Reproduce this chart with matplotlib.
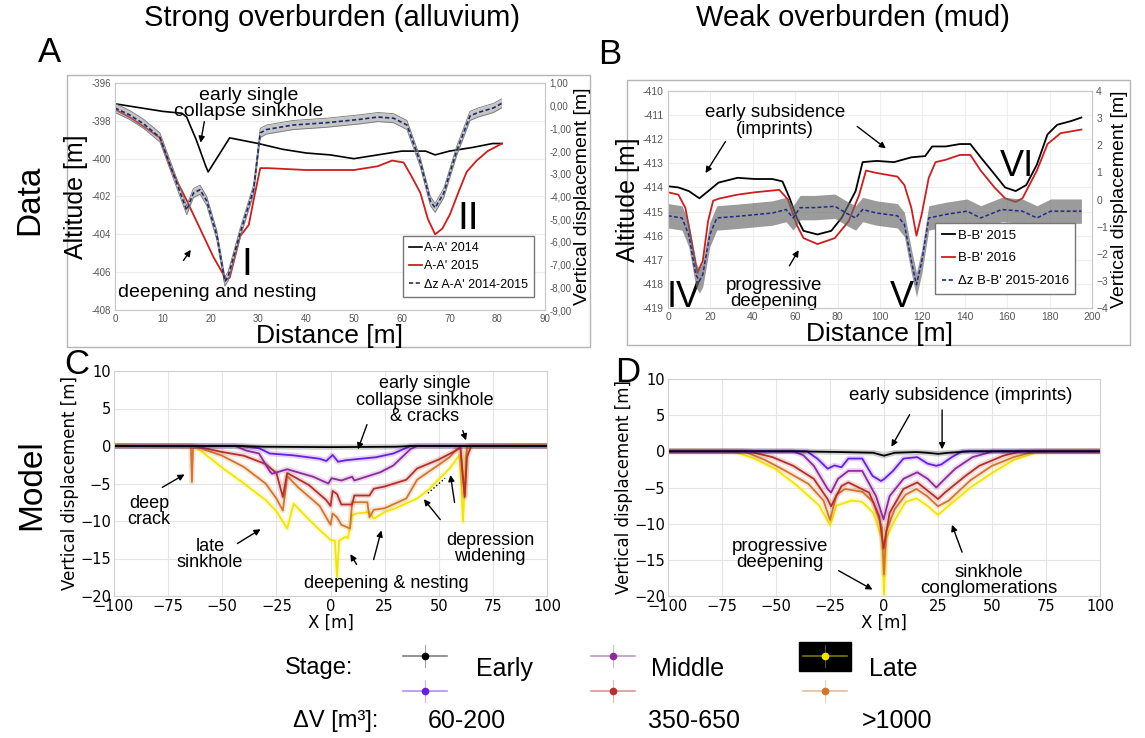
import numpy as np
import matplotlib
matplotlib.use('Agg')
import matplotlib.pyplot as plt
from matplotlib.patches import Rectangle
from matplotlib.lines import Line2D

plt.rcParams['font.family'] = ['Liberation Sans', 'DejaVu Sans']

W, H = 1145, 738

# ---- Panel A data (alluvium, profile A-A') ----
a_x_2014 = [0, 5, 10, 14, 15, 17, 19, 19.5, 20, 22, 24, 26, 30, 35, 40, 45, 50, 55, 60, 65, 67, 70, 75, 79, 81]
a_alt_2014 = [-397.1, -397.3, -397.5, -397.6, -397.8, -399.0, -400.4, -400.7, -400.5, -399.7, -398.9, -399.0,
              -399.2, -399.5, -399.7, -399.8, -400.0, -399.8, -399.6, -399.6, -399.8, -399.6, -399.4, -399.2, -399.2]
a_x_2015 = [0, 3, 6, 9.4, 11.5, 13, 15, 17.8, 20.6, 23.3, 24, 26.2, 28, 29, 30.4, 32, 40, 50, 55, 58, 60.4, 62,
            63.9, 65.5, 67, 68.5, 70.1, 72, 73.6, 75.7, 78, 81]
a_alt_2015 = [-397.4, -397.8, -398.3, -398.9, -400.4, -401.2, -402.2, -403.7, -405.2, -406.4, -406.3, -404.1,
              -403.5, -402.2, -400.5, -400.5, -400.6, -400.6, -400.4, -400.1, -400.2, -400.9, -401.8, -403.2,
              -404.0, -403.7, -402.95, -401.7, -400.7, -400.1, -399.6, -399.2]
a_x_dz = [0, 3, 6, 9.4, 11.5, 14.3, 15, 16.4, 17.8, 19.2, 21.3, 23, 23.7, 26.2, 29, 30.4, 31.7, 37.3, 44.3,
          51.3, 55, 58.3, 61.1, 63.9, 66, 67, 68.8, 71.5, 74.3, 76, 79.2, 80.9]
a_dz = [-0.1, -0.4, -0.8, -1.4, -2.6, -4.2, -4.6, -3.85, -3.7, -4.2, -5.7, -7.75, -7.5, -5.6, -3.7, -1.2, -1.05,
        -0.85, -0.75, -0.6, -0.5, -0.55, -0.85, -2.5, -4.2, -4.5, -3.85, -2.0, -0.45, -0.3, -0.1, 0.1]
a_dz_err = 0.2
a_left_ticks = [-408, -406, -404, -402, -400, -398, -396]
a_right_ticks = [-9, -8, -7, -6, -5, -4, -3, -2, -1, 0, 1]
a_right_labels = ['-9,00', '-8,00', '-7,00', '-6,00', '-5,00', '-4,00', '-3,00', '-2,00', '-1,00', '0,00', '1,00']

# ---- Panel B data (mud, profile B-B') ----
b_x_2015 = [0, 4.9, 9.8, 14.8, 19.7, 23.8, 32.8, 41, 49.2, 54, 57.4, 60.7, 63.9, 70.5, 77, 82, 88.5, 91.8, 98.4,
            106.6, 114.8, 121.3, 124.6, 131, 137.7, 142.6, 147.5, 154, 159, 164, 169, 174, 179, 183.6, 190, 195]
b_alt_2015 = [-413.95, -414.0, -414.15, -414.45, -414.1, -413.8, -413.6, -413.65, -413.65, -413.75, -414.45,
              -415.25, -415.8, -415.95, -415.8, -415.25, -414.15, -412.95, -412.9, -412.95, -412.75, -412.7,
              -412.3, -412.3, -412.2, -412.2, -412.75, -413.45, -414.0, -414.15, -413.9, -413.05, -411.8,
              -411.4, -411.25, -411.1]
b_x_2016 = [0, 4.9, 8.2, 11.5, 13.9, 16.4, 18.9, 21.3, 24.6, 32.8, 41, 52.5, 56.6, 60.7, 63.9, 70.5, 78.7, 85.2,
            90.2, 93.4, 98.4, 108.2, 111.5, 114.8, 117.2, 119.7, 123, 126.2, 131.1, 134.4, 137.7, 142.6, 147.5,
            154, 159, 164, 167.2, 174, 179, 185.2, 195]
b_alt_2016 = [-414.2, -414.3, -414.85, -416.4, -417.55, -417.05, -415.4, -414.55, -414.45, -414.3, -414.2,
              -414.1, -414.5, -415.55, -416.1, -416.35, -416.1, -415.4, -414.3, -413.3, -413.4, -413.55, -413.9,
              -414.85, -416.0, -415.1, -413.6, -412.95, -412.85, -412.75, -412.65, -412.65, -413.3, -414.0,
              -414.45, -414.6, -414.45, -413.3, -412.2, -411.75, -411.6]
b_x_dz = [0, 6.6, 9.8, 13.1, 14.8, 16.4, 19.7, 23, 32.8, 49.2, 55.7, 59, 62.3, 68.9, 78.7, 85.2, 88.5, 91.8, 98.4,
          108.2, 111.5, 114.8, 117.2, 119.7, 123, 131.1, 141, 147.5, 157.4, 167.2, 174, 180.5, 195]
b_dz = [-0.6, -0.68, -1.3, -2.77, -3.0, -2.77, -1.3, -0.68, -0.62, -0.5, -0.37, -0.68, -0.3, -0.3, -0.25, -0.55,
        -0.68, -0.37, -0.5, -0.6, -0.92, -2.28, -3.14, -2.28, -0.68, -0.55, -0.43, -0.68, -0.37, -0.43, -0.68,
        -0.43, -0.43]
b_dz_err = 0.45

# ---- Panel C model (strong overburden) ----
c_x_early1 = [-100, -42, -30, 0, 30, 37, 100]
c_y_early1 = [0, 0, -0.1, -0.15, -0.1, 0, 0]
c_x_early2 = [-100, -42, -33, -28, -17, -5, -2, 1, 3.5, 7, 21, 29, 37, 100]
c_y_early2 = [0, 0, -0.3, -1.0, -1.25, -1.7, -2.0, -1.2, -2.1, -1.9, -1.5, -1.0, 0, 0]
c_x_mid1 = [-100, -44, -39, -33, -28, -27, -20, -8, -1, 0.5, 5, 10, 11, 23, 29, 37, 40, 100]
c_y_mid1 = [0, 0, -0.6, -1.0, -3.4, -3.7, -3.1, -4.1, -5.0, -4.3, -4.6, -4.1, -4.6, -3.5, -2.6, -0.4, 0, 0]
c_x_mid2 = [-100, -63, -50, -40, -30, -25, -22, -20, -10, -2, 0, 1, 3, 5, 10, 11, 18, 20, 25, 35, 40, 50, 58,
            60, 61, 62, 63, 65, 100]
c_y_mid2 = [0, 0, -0.8, -1.3, -2.4, -3.6, -6.8, -3.6, -5.2, -7.2, -8.0, -6.0, -6.4, -7.8, -7.8, -6.6, -6.6, -5.7,
            -5.4, -4.5, -3.0, -1.8, -0.6, -0.2, -3.5, -6.8, -1.5, 0, 0]
c_x_late2 = [-100, -64.5, -64, -63.5, -63, -60, -50, -40, -30, -25, -22, -20, -15, -5, 0, 1, 3, 5, 9, 10, 17, 18,
             20, 25, 35, 40, 45, 55, 58, 60, 61, 62, 63, 100]
c_y_late2 = [0, 0, -4.8, -0.3, -0.2, -0.3, -1.3, -2.8, -5.0, -7.0, -8.6, -4.0, -5.5, -8.0, -10.5, -9.0, -9.5,
             -10.5, -11.0, -7.5, -7.5, -9.5, -8.5, -8.3, -7.0, -4.5, -3.5, -1.5, -0.5, -0.2, -4.0, -6.5, 0, 0]
c_x_late1 = [-100, -63, -60, -50, -40, -30, -25, -20, -17, -10, -5, 0, 2, 3, 4, 7, 8, 10, 12, 18, 20, 25, 30, 40,
             45, 55, 59.7, 61.2, 62.7, 64, 100]
c_y_late1 = [0.1, -0.2, -0.6, -2.9, -5.0, -7.2, -8.7, -11.0, -7.7, -9.8, -11.2, -12.5, -12.6, -17.5, -12.6,
             -12.1, -12.3, -9.2, -9.0, -8.8, -9.7, -8.8, -8.3, -7.0, -5.9, -3.0, -1.2, -10.1, -0.8, 0, 0.1]

# ---- Panel D model (weak overburden) ----
d_x_early1 = [-100, -40, -20, -5, 0, 5, 15, 20, 25, 30, 40, 100]
d_y_early1 = [0, 0, -0.1, -0.2, -0.6, -0.2, -0.1, -0.2, -0.35, -0.2, 0, 0]
d_x_early2 = [-100, -35.7, -30.9, -26.1, -22.9, -19.7, -16.5, -10.1, -5.3, -1.4, 0.2, 4.2, 9, 15.4, 20.2, 24.2,
              26.6, 31.4, 36.2, 100]
d_y_early2 = [0, 0, -1.0, -2.4, -1.95, -2.2, -1.0, -1.0, -3.4, -4.1, -3.8, -2.7, -1.0, -0.8, -1.7, -2.0, -1.8,
              -0.8, 0, 0]
d_x_mid1 = [-100, -42, -37.3, -32.5, -26.1, -24.5, -21.3, -16.5, -10.1, -3.7, -0.2, 2.6, 9, 15.4, 20.2, 24.2,
            28.2, 33, 41, 50.5, 100]
d_y_mid1 = [0, 0, -0.55, -2.0, -5.2, -5.7, -3.8, -2.7, -2.7, -6.2, -9.4, -6.2, -3.8, -2.9, -3.8, -5.0, -3.8,
            -2.4, -0.8, 0, 0]
d_x_mid2 = [-100, -62.8, -51.6, -42, -32.5, -26.1, -24.5, -19.7, -16.5, -6.9, -2.2, -0.2, 2.6, 9, 15.4, 23.4,
            25, 28.2, 37.7, 44.1, 55.3, 63.3, 100]
d_y_mid2 = [0, 0, -0.8, -2.0, -3.8, -6.6, -7.6, -4.8, -4.3, -5.7, -9.0, -13.4, -8.5, -5.2, -4.3, -6.2, -6.6,
            -5.7, -3.4, -2.0, -0.6, 0, 0]
d_x_late2 = [-100, -65, -55, -45, -35, -28, -25, -22, -18, -10, -5, -1, 0, 1, 5, 10, 15, 20, 25, 30, 40, 50, 60,
             70, 100]
d_y_late2 = [0, 0, -1.2, -2.8, -4.5, -6.8, -9.5, -6.0, -5.2, -5.6, -7.0, -10.5, -17.0, -11.0, -8.0, -6.0, -5.2,
             -6.2, -7.6, -6.8, -4.0, -2.0, -0.8, 0, 0]
d_x_late1 = [-100, -70, -60, -50, -40, -30, -25, -22, -15, -10, -5, -1, 0, 1, 5, 10, 15, 20, 25, 30, 40, 50, 60,
             70, 75, 100]
d_y_late1 = [0.1, 0, -1.0, -2.5, -4.8, -7.5, -10.2, -7.5, -6.8, -7.0, -8.5, -12.0, -19.8, -12.0, -9.5, -7.0,
             -6.5, -7.5, -8.8, -7.5, -5.0, -3.0, -1.2, -0.2, 0, 0.1]

stage_colors = {'early1': 'black', 'early2': '#6a1fe0', 'mid1': '#8e2a99',
                'mid2': '#b5302a', 'late2': '#d2762e', 'late1': '#f2e600'}


def rect(x0, y0, x1, y1):
    return [x0 / W, 1 - y1 / H, (x1 - x0) / W, (y1 - y0) / H]


fig = plt.figure(figsize=(W / 100, H / 100), dpi=100)

# overlay in pixel coordinates for frames, titles and the stage key
over = fig.add_axes([0, 0, 1, 1])
over.set_xlim(0, W)
over.set_ylim(H, 0)
over.axis('off')
over.add_patch(Rectangle((67, 75), 523, 272, fill=False, ec='#b5b5b5', lw=1))
over.add_patch(Rectangle((627, 80), 503, 265, fill=False, ec='#b5b5b5', lw=1))
over.text(332, 18, 'Strong overburden (alluvium)', ha='center', va='center', fontsize=21)
over.text(853, 18, 'Weak overburden (mud)', ha='center', va='center', fontsize=21)
for lab, (px, py) in {'A': (50, 53), 'B': (610, 54), 'C': (77, 364), 'D': (628, 372)}.items():
    over.text(px, py, lab, ha='center', va='center', fontsize=25)
over.text(30, 200, 'Data', ha='center', va='center', rotation=90, fontsize=24)
over.text(32, 485, 'Model', ha='center', va='center', rotation=90, fontsize=24)

# ---------------- Panel A ----------------
axA = fig.add_axes(rect(115, 83, 545, 310))
axA.plot(a_x_2014, a_alt_2014, color='black', lw=1.2)
axA.plot(a_x_2015, a_alt_2015, color='#d01c1c', lw=1.3)
axA.set_xlim(0, 90)
axA.set_ylim(-408, -396)
axA.set_xticks(range(0, 91, 10))
axA.set_yticks(a_left_ticks)
axA.set_yticklabels([str(t) for t in a_left_ticks])
axA.tick_params(labelsize=7, colors='#555555', length=0, pad=3)
axA.grid(axis='y', color='#ececec', lw=0.8)
for s in axA.spines.values():
    s.set_color('#c8c8c8')
axA.set_xlabel('Distance [m]', fontsize=19, labelpad=0)
axA.set_ylabel('Altitude [m]', fontsize=18, labelpad=2)

axA2 = axA.twinx()
dz = np.array(a_dz)
axA2.fill_between(a_x_dz, dz - a_dz_err, dz + a_dz_err, color='#8c8c8c', alpha=0.5, lw=0)
axA2.plot(a_x_dz, dz + a_dz_err, color='#777777', lw=0.6)
axA2.plot(a_x_dz, dz - a_dz_err, color='#777777', lw=0.6)
axA2.plot(a_x_dz, dz, color='#1f2a6b', lw=1.2, ls='--', dashes=(2.5, 1.5))
axA2.set_ylim(-9, 1)
axA2.set_yticks(a_right_ticks)
axA2.set_yticklabels(a_right_labels)
axA2.tick_params(labelsize=7, colors='#555555', length=0, pad=3)
axA2.set_ylabel('Vertical displacement [m]', fontsize=14, labelpad=2)
for s in axA2.spines.values():
    s.set_color('#c8c8c8')
hA = [Line2D([], [], color='black', lw=1.2), Line2D([], [], color='#d01c1c', lw=1.3),
      Line2D([], [], color='#1f2a6b', lw=1.2, ls='--', dashes=(2.5, 1.5))]
axA2.legend(hA, ["A-A' 2014", "A-A' 2015", "\u0394z A-A' 2014-2015"], loc='lower right',
            bbox_to_anchor=(0.99, 0.03), fontsize=9, fancybox=False, edgecolor='#777777',
            handlelength=1.0, handletextpad=0.2, borderpad=0.5, labelspacing=0.5, framealpha=1)

axA.annotate('', xy=(17.8, -399.3), xytext=(18.8, -397.9),
             arrowprops=dict(arrowstyle='-|>', color='black', lw=1, mutation_scale=9))
axA.text(28, -397.1, 'early single\ncollapse sinkhole', ha='center', va='center', fontsize=14,
         linespacing=0.95)
axA.annotate('', xy=(16.2, -404.7), xytext=(14.0, -405.5),
             arrowprops=dict(arrowstyle='-|>', color='black', lw=1, mutation_scale=9))
axA.text(21.3, -407.1, 'deepening and nesting', ha='center', va='center', fontsize=14)
axA.text(27.6, -405.6, 'I', ha='center', va='center', fontsize=28)
axA.text(73.9, -403.2, 'II', ha='center', va='center', fontsize=28)

# ---------------- Panel B ----------------
axB = fig.add_axes(rect(668, 91, 1092, 308))
axB.plot(b_x_2015, b_alt_2015, color='black', lw=1.3)
axB.plot(b_x_2016, b_alt_2016, color='#d01c1c', lw=1.3)
axB.set_xlim(0, 200)
axB.set_ylim(-419, -410)
axB.set_xticks(range(0, 201, 20))
axB.set_yticks(range(-419, -409))
axB.set_yticklabels([str(t) for t in range(-419, -409)])
axB.tick_params(labelsize=7.5, colors='#555555', length=0, pad=3)
axB.grid(color='#eeeeee', lw=0.8)
for s in axB.spines.values():
    s.set_color('#c8c8c8')
axB.set_xlabel('Distance [m]', fontsize=19, labelpad=0)
axB.set_ylabel('Altitude [m]', fontsize=18, labelpad=2)

axB2 = axB.twinx()
dzb = np.array(b_dz)
axB2.fill_between(b_x_dz, dzb - b_dz_err, dzb + b_dz_err, color='#666666', alpha=0.65, lw=0)
axB2.plot(b_x_dz, dzb, color='#1f2a8b', lw=1.1, ls='--', dashes=(2.5, 1.5))
axB2.set_ylim(-4, 4)
axB2.set_yticks(range(-4, 5))
axB2.tick_params(labelsize=7.5, colors='#555555', length=0, pad=3)
axB2.set_ylabel('Vertical displacement [m]', fontsize=14, labelpad=2)
for s in axB2.spines.values():
    s.set_color('#c8c8c8')
hB = [Line2D([], [], color='black', lw=1.3), Line2D([], [], color='#d01c1c', lw=1.3),
      Line2D([], [], color='#1f2a8b', lw=1.2, ls='--', dashes=(2.5, 1.5))]
axB2.legend(hB, ["B-B' 2015", "B-B' 2016", "\u0394z B-B' 2015-2016"], loc='lower right',
            bbox_to_anchor=(0.976, 0.035), fontsize=9.5, fancybox=False, edgecolor='#777777',
            handlelength=1.0, handletextpad=0.2, borderpad=0.5, labelspacing=0.8, framealpha=1)

axB.text(50.5, -411.25, 'early subsidence\n(imprints)', ha='center', va='center', fontsize=13.5,
         linespacing=0.95)
axB.annotate('', xy=(17, -413.5), xytext=(27.8, -412.0),
             arrowprops=dict(arrowstyle='-|>', color='black', lw=1, mutation_scale=9))
axB.annotate('', xy=(103.8, -412.45), xytext=(88.2, -411.4),
             arrowprops=dict(arrowstyle='-|>', color='black', lw=1, mutation_scale=9))
axB.text(50, -418.4, 'progressive\ndeepening', ha='center', va='center', fontsize=13.5, linespacing=0.95)
axB.annotate('', xy=(62.3, -416.5), xytext=(56.6, -417.35),
             arrowprops=dict(arrowstyle='-|>', color='black', lw=1, mutation_scale=9))
axB.text(7.5, -418.55, 'IV', ha='center', va='center', fontsize=26)
axB.text(110.4, -418.55, 'V', ha='center', va='center', fontsize=26)
axB.text(164.6, -413.15, 'VI', ha='center', va='center', fontsize=26)


# ---------------- Model panels ----------------
def model_axes(r, curves):
    ax = fig.add_axes(r)
    for name, xs, ys in curves:
        c = stage_colors[name]
        ax.plot(xs, ys, color=c, lw=4, alpha=0.18, solid_joinstyle='round')
        ax.plot(xs, ys, color=c, lw=1.3)
    ax.set_xlim(-100, 100)
    ax.set_ylim(-20, 10)
    ax.set_xticks(range(-100, 101, 25))
    ax.set_yticks(range(-20, 11, 5))
    ax.tick_params(labelsize=10.5, length=0, pad=2)
    for lab in ax.get_xticklabels() + ax.get_yticklabels():
        lab.set_family('DejaVu Sans')
    ax.grid(color='#e4e4e4', lw=0.8)
    ax.set_axisbelow(True)
    for s in ax.spines.values():
        s.set_color('#d0d0d0')
    ax.set_xlabel('X [m]', fontsize=12, family='DejaVu Sans', labelpad=0)
    ax.set_ylabel('Vertical displacement [m]', fontsize=12, family='DejaVu Sans', labelpad=1)
    return ax


axC = model_axes(rect(114, 371, 547, 596), [
    ('late1', c_x_late1, c_y_late1), ('late2', c_x_late2, c_y_late2), ('mid2', c_x_mid2, c_y_mid2),
    ('mid1', c_x_mid1, c_y_mid1), ('early2', c_x_early2, c_y_early2), ('early1', c_x_early1, c_y_early1)])
axD = model_axes(rect(668, 379, 1100, 596), [
    ('late1', d_x_late1, d_y_late1), ('late2', d_x_late2, d_y_late2), ('mid2', d_x_mid2, d_y_mid2),
    ('mid1', d_x_mid1, d_y_mid1), ('early2', d_x_early2, d_y_early2), ('early1', d_x_early1, d_y_early1)])

arr = dict(arrowstyle='-|>', color='black', lw=1, mutation_scale=9)
axC.text(43.6, 6.1, 'early single\ncollapse sinkhole\n& cracks', ha='center', va='center', fontsize=13,
         linespacing=0.95)
axC.annotate('', xy=(12.2, -0.8), xytext=(17.3, 3.2), arrowprops=arr)
axC.annotate('', xy=(63.0, 0.4), xytext=(60.7, 2.4), arrowprops=arr)
axC.text(-83.8, -8.7, 'deep\ncrack', ha='center', va='center', fontsize=13, linespacing=0.95)
axC.annotate('', xy=(-66.3, -3.6), xytext=(-78.8, -5.7), arrowprops=arr)
axC.text(-55.7, -14.5, 'late\nsinkhole', ha='center', va='center', fontsize=13, linespacing=0.95)
axC.annotate('', xy=(-31.2, -10.9), xytext=(-44.1, -13.2), arrowprops=arr)
axC.text(25.6, -18.4, 'deepening & nesting', ha='center', va='center', fontsize=13)
axC.annotate('', xy=(8.5, -14.1), xytext=(12.7, -16.1), arrowprops=arr)
axC.annotate('', xy=(23.8, -10.9), xytext=(19.6, -15.5), arrowprops=arr)
axC.text(73.7, -13.7, 'depression\nwidening', ha='center', va='center', fontsize=13, linespacing=0.95)
axC.annotate('', xy=(42.3, -6.8), xytext=(51.5, -10.1), arrowprops=arr)
axC.annotate('', xy=(55.2, -3.5), xytext=(57.5, -7.9), arrowprops=arr)
axC.plot([45.0, 52.9], [-6.3, -4.3], color='black', lw=1, ls=':')

axD.text(35.6, 7.65, 'early subsidence (imprints)', ha='center', va='center', fontsize=13.5)
axD.annotate('', xy=(2.8, 0.3), xytext=(12.5, 5.4), arrowprops=arr)
axD.annotate('', xy=(26.9, -0.1), xytext=(26.9, 6.1), arrowprops=arr)
axD.text(-48.1, -14.3, 'progressive\ndeepening', ha='center', va='center', fontsize=13.5, linespacing=0.95)
axD.annotate('', xy=(-4.2, -19.3), xytext=(-22.2, -16.3), arrowprops=arr)
axD.text(48.6, -17.9, 'sinkhole\nconglomerations', ha='center', va='center', fontsize=13.5, linespacing=0.95)
axD.annotate('', xy=(31.0, -9.8), xytext=(36.6, -14.3), arrowprops=arr)

# ---------------- Stage key ----------------
over.text(285, 668, 'Stage:', ha='left', va='center', fontsize=17)
over.text(293, 721, '\u0394V [m\u00b3]:', ha='left', va='center', fontsize=17)
over.add_patch(Rectangle((799, 642), 52, 29, color='black'))
key = [(425, 656, 'early1'), (425, 691, 'early2'), (613, 656, 'mid1'), (613, 691, 'mid2'),
       (825, 656, 'late1'), (825, 691, 'late2')]
for kx, ky, name in key:
    c = stage_colors[name]
    over.plot([kx - 22, kx + 22], [ky, ky], color=c, lw=1.2, alpha=0.5)
    over.plot([kx, kx], [ky - 11, ky + 11], color=c, lw=0.8, alpha=0.35)
    over.plot([kx], [ky], 'o', color=c, ms=4.5)
over.text(476, 669, 'Early', ha='left', va='center', fontsize=18)
over.text(651, 669, 'Middle', ha='left', va='center', fontsize=18)
over.text(869, 669, 'Late', ha='left', va='center', fontsize=18)
over.text(428, 721, '60-200', ha='left', va='center', fontsize=18)
over.text(648, 721, '350-650', ha='left', va='center', fontsize=18)
over.text(862, 721, '>1000', ha='left', va='center', fontsize=18)

fig.savefig('out.png', dpi=100)
